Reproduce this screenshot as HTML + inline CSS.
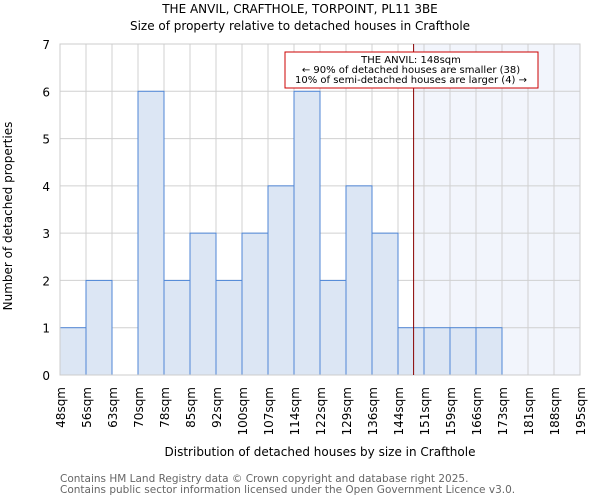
<!DOCTYPE html>
<html><head><meta charset="utf-8"><style>
body{margin:0;background:#fff;font-family:"DejaVu Sans","Liberation Sans",sans-serif;}
svg text{font-family:"DejaVu Sans","Liberation Sans",sans-serif;}
</style></head><body>
<svg id="chart" width="600" height="500" xmlns="http://www.w3.org/2000/svg">
<text x="300" y="13" font-size="12" text-anchor="middle">THE ANVIL, CRAFTHOLE, TORPOINT, PL11 3BE</text>
<text x="300" y="30" font-size="12" text-anchor="middle">Size of property relative to detached houses in Crafthole</text>
<g id="plot"></g>
<text x="320" y="456" font-size="12" text-anchor="middle">Distribution of detached houses by size in Crafthole</text>
<text transform="translate(12,216) rotate(-90)" font-size="12" text-anchor="middle">Number of detached properties</text>
<text x="60" y="482" font-size="10.5" fill="#666">Contains HM Land Registry data © Crown copyright and database right 2025.</text>
<text x="60" y="493" font-size="10.5" fill="#666">Contains public sector information licensed under the Open Government Licence v3.0.</text>
</svg>
<script>
const binLabels=["48sqm","56sqm","63sqm","70sqm","78sqm","85sqm","92sqm","100sqm","107sqm","114sqm","122sqm","129sqm","136sqm","144sqm","151sqm","159sqm","166sqm","173sqm","181sqm","188sqm","195sqm"];
const counts=[1,2,0,6,2,3,2,3,4,6,2,4,3,1,1,1,1,0,0,0];
const yTicks=[0,1,2,3,4,5,6,7];
const markerIndex=13.6;
const NS="http://www.w3.org/2000/svg";
const g=document.getElementById('plot');
const X0=60,X1=580,Y0=375,Y1=44,YMAX=7;
const bw=(X1-X0)/counts.length;
const xs=i=>X0+i*bw;
const ys=v=>Y0-(Y0-Y1)*v/YMAX;
function mk(t,a){const e=document.createElementNS(NS,t);for(const k in a)e.setAttribute(k,a[k]);g.appendChild(e);return e;}
const mx=xs(markerIndex);
let e=mk('rect',{x:mx,y:Y1,width:X1-mx,height:Y0-Y1,fill:'#f2f5fc'});


yTicks.forEach(v=>{
 let l=mk('line',{x1:X0,x2:X1,y1:ys(v),y2:ys(v),stroke:'#d0d0d0','stroke-width':1});
 
 
 let t=mk('text',{x:X0-10,y:ys(v)+5,'font-size':12,'text-anchor':'end'});t.textContent=v;
 
 
});
binLabels.forEach((s,i)=>{
 let l=mk('line',{x1:xs(i),x2:xs(i),y1:Y1,y2:Y0,stroke:'#d0d0d0','stroke-width':1});
 
 
 let t=mk('text',{transform:`translate(${xs(i)+5},387) rotate(-90)`,'font-size':12,'text-anchor':'end'});t.textContent=s;
 
 
});
counts.forEach((c,i)=>{
 if(c<=0)return;
 let r=mk('rect',{x:xs(i),y:ys(c),width:bw,height:Y0-ys(c),fill:'#dce6f4',stroke:'#4f86d6','stroke-width':1});
 
 
});
let ax=mk('rect',{x:X0,y:Y1,width:X1-X0,height:Y0-Y1,fill:'none',stroke:'#ccc'});


let ml=mk('line',{x1:mx,x2:mx,y1:Y1,y2:Y0,stroke:'#880000','stroke-width':1});


let box=mk('rect',{x:285,y:52,width:253,height:36,fill:'#fff',stroke:'#cc0000','stroke-width':1});


["THE ANVIL: 148sqm","← 90% of detached houses are smaller (38)","10% of semi-detached houses are larger (4) →"].forEach((s,i)=>{
 let t=mk('text',{x:411,y:63+i*10,'font-size':10,'text-anchor':'middle'});t.textContent=s;
 
 
});
</script>
</body></html>
